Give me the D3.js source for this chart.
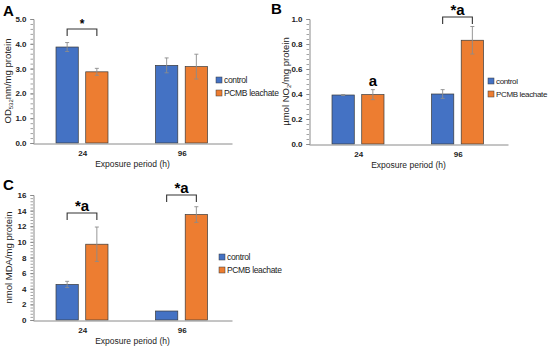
<!DOCTYPE html>
<html>
<head>
<meta charset="utf-8">
<script src="https://cdn.jsdelivr.net/npm/d3@7"></script>
<style>
  body { margin: 0; background: #fff; }
  svg { font-family: "Liberation Sans", Arial, sans-serif; }
</style>
</head>
<body>
<svg id="chart" width="550" height="348"></svg>
<script>
// exposure groups and series
const groups = ["24", "96"];
const seriesNames = ["control", "PCMB leachate"];
const seriesColors = ["#4472C4", "#ED7D31"];

// panel A: OD532nm / mg protein
const odControl = [3.87, 3.13];
const odControlErr = [0.18, 0.30];
const odPcmb = [2.87, 3.08];
const odPcmbErr = [0.14, 0.50];

// panel B: umol NO / mg protein
const noControl = [0.392, 0.400];
const noControlErr = [0.004, 0.035];
const noPcmb = [0.395, 0.830];
const noPcmbErr = [0.040, 0.110];

// panel C: nmol MDA / mg protein
const mdaControl = [4.55, 1.15];
const mdaControlErr = [0.40, 0.0];
const mdaPcmb = [9.70, 13.50];
const mdaPcmbErr = [2.20, 1.00];

const yTicksA = [0, 1, 2, 3, 4, 5];
const yTicksB = [0, 0.2, 0.4, 0.6, 0.8, 1.0];
const yTicksC = [0, 2, 4, 6, 8, 10, 12, 14, 16];

const svg = d3.select("#chart");

function rows(ctrl, ctrlErr, pcmb, pcmbErr) {
  return groups.map((g, i) => ({
    group: g,
    vals: [
      { s: seriesNames[0], v: ctrl[i], e: ctrlErr[i] },
      { s: seriesNames[1], v: pcmb[i], e: pcmbErr[i] }
    ]
  }));
}

function drawPanel(opt) {
  const g = svg.append("g");
  const x0 = d3.scaleBand().domain(groups).range([opt.left, opt.right]);
  const x1 = d3.scaleBand().domain(seriesNames)
    .range([23, 75]).paddingInner(0.25);
  const y = d3.scaleLinear().domain([0, opt.max]).range([opt.bottom, opt.top]);

  // minor ticks
  const minor = d3.range(0, opt.max + 1e-9, opt.max / ((opt.ticks.length - 1) * 5));
  g.selectAll("line.minor").data(minor).enter().append("line")
    .attr("x1", opt.left - 2.5).attr("x2", opt.left)
    .attr("y1", d => y(d) + 0.5).attr("y2", d => y(d) + 0.5)
    .attr("stroke", "#8a8a8a").attr("stroke-width", 0.8);

  // y axis
  const yAxis = g.append("g")
    .attr("transform", `translate(${opt.left + 0.5},0)`)
    .call(d3.axisLeft(y).tickValues(opt.ticks).tickFormat(opt.fmt).tickSize(3).tickPadding(4));
  yAxis.select(".domain").attr("stroke", "#8a8a8a");
  yAxis.selectAll(".tick line").attr("stroke", "#8a8a8a");
  yAxis.selectAll("text").attr("font-size", 8).attr("font-weight", "bold").attr("fill", "#222");

  // bars
  const data = rows(...opt.data);
  const grp = g.selectAll("g.grp").data(data).enter().append("g")
    .attr("transform", d => `translate(${x0(d.group)},0)`);
  grp.selectAll("rect").data(d => d.vals).enter().append("rect")
    .attr("x", d => x1(d.s))
    .attr("width", x1.bandwidth())
    .attr("y", d => y(d.v))
    .attr("height", d => y(0) - y(d.v))
    .attr("fill", (d, i) => seriesColors[i])
    .attr("stroke", "#3a3a3a").attr("stroke-width", 0.7);

  // error bars
  const eb = grp.selectAll("g.err").data(d => d.vals.filter(v => v.e > 0)).enter().append("g")
    .attr("stroke", "#8c8c8c").attr("stroke-width", 0.9);
  eb.append("line")
    .attr("x1", d => x1(d.s) + x1.bandwidth() / 2).attr("x2", d => x1(d.s) + x1.bandwidth() / 2)
    .attr("y1", d => y(d.v + d.e)).attr("y2", d => y(d.v - d.e));
  eb.append("line")
    .attr("x1", d => x1(d.s) + x1.bandwidth() / 2 - 2).attr("x2", d => x1(d.s) + x1.bandwidth() / 2 + 2)
    .attr("y1", d => y(d.v + d.e)).attr("y2", d => y(d.v + d.e));
  eb.append("line")
    .attr("x1", d => x1(d.s) + x1.bandwidth() / 2 - 2).attr("x2", d => x1(d.s) + x1.bandwidth() / 2 + 2)
    .attr("y1", d => y(d.v - d.e)).attr("y2", d => y(d.v - d.e));

  // x axis
  const xAxis = g.append("g")
    .attr("transform", `translate(0,${opt.bottom + 0.5})`)
    .call(d3.axisBottom(x0).tickSize(0).tickSizeOuter(0).tickPadding(7));
  xAxis.select(".domain").attr("stroke", "#8a8a8a");
  xAxis.selectAll("text").attr("font-size", 8).attr("font-weight", "bold").attr("fill", "#222");

  g.append("text")
    .attr("x", (opt.left + opt.right) / 2).attr("y", opt.bottom + 24)
    .attr("text-anchor", "middle").attr("font-size", 8.5).attr("fill", "#222")
    .text("Exposure period (h)");

  // y title
  const yt = g.append("text")
    .attr("transform", `translate(${opt.ytx},${(opt.top + opt.bottom) / 2}) rotate(-90)`)
    .attr("text-anchor", "middle").attr("font-size", 9.5).attr("fill", "#222");
  opt.ytitle.forEach(p => {
    const t = yt.append("tspan").text(p.t);
    if (p.sub) t.attr("font-size", 6).attr("dy", 2);
    if (p.back) t.attr("dy", -2);
  });

  // panel letter
  g.append("text").attr("x", opt.lx).attr("y", opt.ly)
    .attr("font-size", 15).attr("font-weight", "bold").text(opt.letter);

  // legend
  const lg = g.selectAll("g.leg").data(seriesNames).enter().append("g")
    .attr("transform", (d, i) => `translate(${opt.legX},${opt.legY + i * 13})`);
  lg.append("rect").attr("x", 0).attr("y", -3).attr("width", 6).attr("height", 6)
    .attr("fill", (d, i) => seriesColors[i]).attr("stroke", "#3a3a3a").attr("stroke-width", 0.5);
  lg.append("text").attr("x", 8).attr("y", 3).attr("font-size", opt.legFs).attr("fill", "#222")
    .attr("letter-spacing", -0.35).text(d => d);

  // significance marks
  opt.marks.forEach(m => {
    const gi = groups.indexOf(m.group);
    const cx = x0(groups[gi]);
    const xa = cx + x1(seriesNames[0]) + x1.bandwidth() / 2;
    const xb = cx + x1(seriesNames[1]) + x1.bandwidth() / 2;
    if (m.bracket) {
      g.append("path")
        .attr("d", `M${xa},${m.by + 7}V${m.by}H${xb}V${m.by + 7}`)
        .attr("fill", "none").attr("stroke", "#333").attr("stroke-width", 1.1);
    }
    const tx = m.bracket ? (xa + xb) / 2 : xb;
    g.append("text").attr("x", tx).attr("y", m.ty)
      .attr("text-anchor", "middle").attr("font-size", m.fs).attr("font-weight", "bold")
      .text(m.text);
  });
}

drawPanel({
  letter: "A", lx: 3, ly: 16,
  left: 33, right: 232, top: 19, bottom: 143, max: 5,
  ticks: yTicksA, fmt: d3.format(".1f"),
  data: [odControl, odControlErr, odPcmb, odPcmbErr],
  ytx: 11,
  ytitle: [{ t: "OD" }, { t: "532", sub: true }, { t: "nm/mg protein", back: true }],
  legX: 216, legY: 80, legFs: 8.5,
  marks: [{ group: "24", bracket: true, by: 29, ty: 28, text: "*", fs: 12 }]
});

drawPanel({
  letter: "B", lx: 271, ly: 14,
  left: 309, right: 508, top: 19, bottom: 144, max: 1,
  ticks: yTicksB, fmt: d3.format(".1f"),
  data: [noControl, noControlErr, noPcmb, noPcmbErr],
  ytx: 289,
  ytitle: [{ t: "µmol NO" }, { t: "2", sub: true }, { t: "/mg protein", back: true }],
  legX: 488, legY: 81, legFs: 8,
  marks: [
    { group: "24", bracket: false, ty: 86, text: "a", fs: 15 },
    { group: "96", bracket: true, by: 17, ty: 15, text: "*a", fs: 15 }
  ]
});

drawPanel({
  letter: "C", lx: 3, ly: 190,
  left: 33, right: 232, top: 195, bottom: 320, max: 16,
  ticks: yTicksC, fmt: d3.format("d"),
  data: [mdaControl, mdaControlErr, mdaPcmb, mdaPcmbErr],
  ytx: 12,
  ytitle: [{ t: "nmol MDA/mg protein" }],
  legX: 219, legY: 257, legFs: 8.5,
  marks: [
    { group: "24", bracket: true, by: 213, ty: 211, text: "*a", fs: 15 },
    { group: "96", bracket: true, by: 195, ty: 193, text: "*a", fs: 15 }
  ]
});
</script>
</body>
</html>
